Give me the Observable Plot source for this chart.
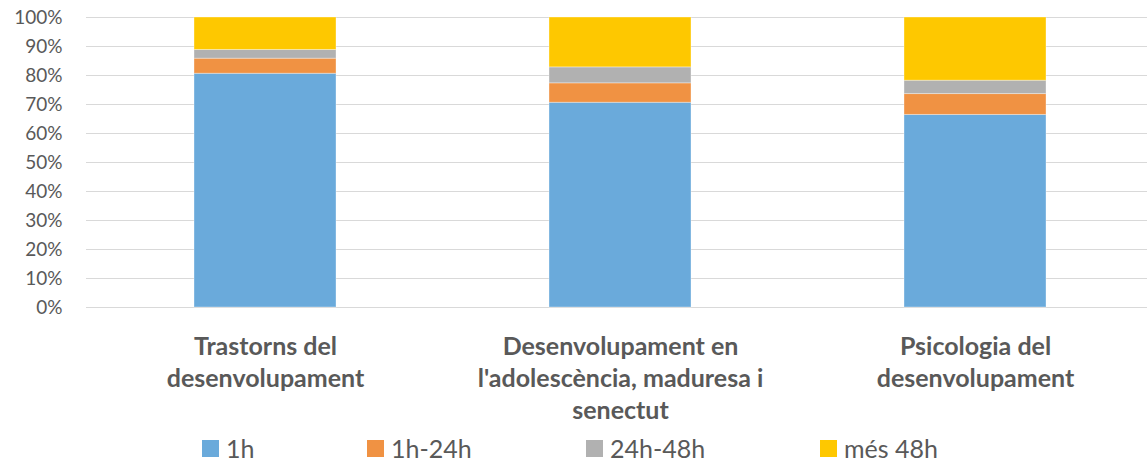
<!DOCTYPE html>
<html>
<head>
<meta charset="utf-8">
<script src="https://cdn.jsdelivr.net/npm/d3@7"></script>
<script src="https://cdn.jsdelivr.net/npm/@observablehq/plot@0.6"></script>
<style>
  html, body { margin: 0; padding: 0; background: #fff; }
  #chart { width: 1147px; height: 463px; position: relative; font-family: Lato, "Open Sans", sans-serif; overflow: hidden; }
  #chart svg { position: absolute; top: 0; left: 0; }
  #legend { position: absolute; top: 436px; left: 0; width: 1147px; height: 25px; }
  .item { position: absolute; top: 0; height: 25px; line-height: 25px; display: flex; align-items: center; font-size: 25px; color: #595959; }
  .sw { width: 17px; height: 17px; margin-right: 7px; }
  svg text { font-family: Lato, "Open Sans", sans-serif; }
</style>
</head>
<body>
<div id="chart"></div>
<script>
const categories = ["Trastorns del desenvolupament", "Desenvolupament en l'adolescència, maduresa i senectut", "Psicologia del desenvolupament"];
const categoryLabels = ["Trastorns del\ndesenvolupament", "Desenvolupament en\nl'adolescència, maduresa i\nsenectut", "Psicologia del\ndesenvolupament"];
const series = ["1h", "1h-24h", "24h-48h", "més 48h"];
const colors = ["#6aaadb", "#f09243", "#b1b1b1", "#fec800"];
const v1h = [80.6, 70.6, 66.4];
const v1h24h = [5.2, 6.7, 7.2];
const v24h48h = [3.0, 5.5, 4.6];
const vMes48h = [11.2, 17.2, 21.8];
const yTicks = [0, 10, 20, 30, 40, 50, 60, 70, 80, 90, 100];
const legendLeft = [202, 367, 586, 820];

const seriesValues = [v1h, v1h24h, v24h48h, vMes48h];
const rows = [];
series.forEach((s, si) => {
  categories.forEach((c, ci) => rows.push({category: c, series: s, value: seriesValues[si][ci]}));
});
const labelOf = new Map(categories.map((c, i) => [c, categoryLabels[i]]));

const plot = Plot.plot({
  width: 1147,
  height: 430,
  marginTop: 17,
  marginBottom: 123,
  marginLeft: 86,
  marginRight: -6,
  x: {domain: categories, paddingInner: 0.6, paddingOuter: 0.3, axis: null},
  y: {domain: [0, 100], axis: null},
  color: {domain: series, range: colors},
  marks: [
    Plot.gridY(yTicks, {stroke: "#d9d9d9", strokeOpacity: 1, strokeWidth: 1.2}),
    Plot.barY(rows, Plot.stackY({x: "category", y: "value", fill: "series", order: series, stroke: "#ffffff", strokeOpacity: 0.35, strokeWidth: 1})),
    Plot.axisY(yTicks, {tickSize: 0, tickPadding: 24, tickFormat: d => d + "%", fontSize: 19, fill: "#595959", label: null}),
    Plot.axisX({tickSize: 0, tickPadding: 25, tickFormat: d => labelOf.get(d), fontSize: 25, fontWeight: "bold", fill: "#595959", lineHeight: 1.28, label: null})
  ]
});
document.getElementById("chart").appendChild(plot);

const legend = document.createElement("div");
legend.id = "legend";
series.forEach((s, i) => {
  const it = document.createElement("div");
  it.className = "item";
  it.style.left = legendLeft[i] + "px";
  const sw = document.createElement("span");
  sw.className = "sw";
  sw.style.background = colors[i];
  const t = document.createElement("span");
  t.textContent = s;
  it.appendChild(sw);
  it.appendChild(t);
  legend.appendChild(it);
});
document.getElementById("chart").appendChild(legend);
</script>
</body>
</html>
